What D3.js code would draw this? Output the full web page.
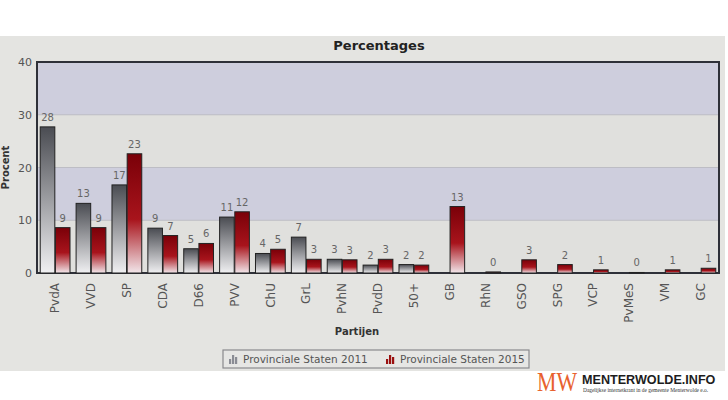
<!DOCTYPE html>
<html><head><meta charset="utf-8">
<script src="https://cdn.jsdelivr.net/npm/d3@7"></script>
<style>html,body{margin:0;padding:0;background:#fff;}svg{display:block;}</style>
</head><body>
<svg id="c" width="728" height="400"></svg>
<script>
const categories = ["PvdA","VVD","SP","CDA","D66","PVV","ChU","GrL","PvhN","PvdD","50+","GB","RhN","GSO","SPG","VCP","PvMeS","VM","GC"];
const ps2011 = [27.7,13.2,16.7,8.5,4.6,10.6,3.7,6.8,2.6,1.5,1.6,null,null,null,null,null,null,null,null];
const ps2015 = [8.6,8.6,22.6,7.1,5.6,11.6,4.5,2.6,2.5,2.6,1.5,12.6,0.2,2.5,1.6,0.6,0.1,0.6,0.9];
const yTicks = [0,10,20,30,40];
const seriesNames = ["Provinciale Staten 2011","Provinciale Staten 2015"];

const svg = d3.select("#c");
const W = 728, H = 400;
const plot = {l:37, r:719, t:62, b:273};

// screen background
svg.append("rect").attr("x",0).attr("y",0).attr("width",W).attr("height",H).attr("fill","#fff");
svg.append("rect").attr("x",0).attr("y",36).attr("width",725).attr("height",335).attr("fill","#e4e4e1");

const defs = svg.append("defs");
const g1 = defs.append("linearGradient").attr("id","gGray").attr("x1",0).attr("y1",0).attr("x2",0).attr("y2",1);
g1.append("stop").attr("offset","0%").attr("stop-color","#4a4c52");
g1.append("stop").attr("offset","100%").attr("stop-color","#f0f0f2");
const g2 = defs.append("linearGradient").attr("id","gRed").attr("x1",0).attr("y1",0).attr("x2",0).attr("y2",1);
g2.append("stop").attr("offset","0%").attr("stop-color","#7a0008");
g2.append("stop").attr("offset","55%").attr("stop-color","#a8141c");
g2.append("stop").attr("offset","100%").attr("stop-color","#f2e6ea");

const x = d3.scaleBand().domain(categories).range([plot.l, plot.r]).paddingInner(0.17).paddingOuter(0.09);
const xi = d3.scaleBand().domain([0,1]).range([0, x.bandwidth()]).paddingInner(0.04);
const y = d3.scaleLinear().domain([0,40]).range([plot.b, plot.t]);

// bands
for (let i=0;i<yTicks.length-1;i++){
  svg.append("rect").attr("x",plot.l).attr("width",plot.r-plot.l)
    .attr("y",y(yTicks[i+1])).attr("height",y(yTicks[i])-y(yTicks[i+1]))
    .attr("fill", i%2===0 ? "#e0e0dd" : "#cecedd");
}
// gridlines
svg.append("g").selectAll("line").data(yTicks.slice(1,4)).join("line")
  .attr("x1",plot.l).attr("x2",plot.r).attr("y1",d=>y(d)).attr("y2",d=>y(d))
  .attr("stroke","#bdbdc4").attr("stroke-width",1);

// plot frame
svg.append("rect").attr("x",plot.l).attr("y",plot.t).attr("width",plot.r-plot.l).attr("height",plot.b-plot.t)
  .attr("fill","none").attr("stroke","#2e3038").attr("stroke-width",2);

// y axis
const yAxis = d3.axisLeft(y).tickValues(yTicks).tickSize(0).tickPadding(5);
const ya = svg.append("g").attr("transform",`translate(${plot.l},0)`).call(yAxis);
ya.select(".domain").remove();
ya.selectAll("text").attr("font-family","DejaVu Sans").attr("font-size",11).attr("fill","#555");

// bars
const series = [ps2011, ps2015];
const fills = ["url(#gGray)","url(#gRed)"];
series.forEach((vals, s) => {
  const data = categories.map((c,i)=>({c, v: vals[i]})).filter(d=>d.v!==null);
  svg.append("g").selectAll("rect").data(data).join("rect")
    .attr("x", d=>x(d.c)+xi(s)).attr("width", xi.bandwidth())
    .attr("y", d=>y(d.v)).attr("height", d=>Math.max(0, y(0)-y(d.v)))
    .attr("fill", fills[s]).attr("stroke","#222").attr("stroke-width",1);
  svg.append("g").selectAll("text").data(data).join("text")
    .attr("x", d=>x(d.c)+xi(s)+xi.bandwidth()/2).attr("y", d=>y(d.v)-6)
    .attr("text-anchor","middle").attr("font-family","DejaVu Sans").attr("font-size",10).attr("fill","#666")
    .text(d=>Math.round(d.v));
});

// x axis labels
const xAxis = d3.axisBottom(x).tickSize(0).tickPadding(8);
const xa = svg.append("g").attr("transform",`translate(0,${plot.b})`).call(xAxis);
xa.select(".domain").remove();
xa.selectAll("text").attr("font-family","DejaVu Sans").attr("font-size",12).attr("fill","#555")
  .attr("text-anchor","end").attr("dy","0.35em")
  .attr("transform","translate(0,8) rotate(-90)").attr("x",-2).attr("y",0);

// titles
svg.append("text").attr("x",379).attr("y",50).attr("text-anchor","middle")
  .attr("font-family","DejaVu Sans").attr("font-weight","bold").attr("font-size",13).attr("fill","#222").text("Percentages");
svg.append("text").attr("transform",`translate(9,${(plot.t+plot.b)/2}) rotate(-90)`).attr("text-anchor","middle")
  .attr("font-family","DejaVu Sans").attr("font-weight","bold").attr("font-size",10).attr("fill","#333").text("Procent");
svg.append("text").attr("x",357).attr("y",335).attr("text-anchor","middle")
  .attr("font-family","DejaVu Sans").attr("font-weight","bold").attr("font-size",10).attr("fill","#333").text("Partijen");

// legend
const lg = svg.append("g");
lg.append("rect").attr("x",223).attr("y",350).attr("width",306).attr("height",18)
  .attr("fill","#e6e6e4").attr("stroke","#8a8a8e").attr("stroke-width",1.2);
const iconCols = ["#8a8c94","#9a1010"];
const legX = [229, 386];
seriesNames.forEach((n,s)=>{
  const ix = legX[s];
  [[0,5],[3,9],[6,7]].forEach(([dx,h])=>{
    lg.append("rect").attr("x",ix+dx).attr("y",364-h).attr("width",2.2).attr("height",h).attr("fill",iconCols[s]);
  });
  lg.append("text").attr("x",ix+14).attr("y",363).attr("font-family","DejaVu Sans").attr("font-size",10.5)
    .attr("fill","#555").text(n);
});

// watermark logo
const wm = svg.append("g");
wm.append("text").attr("x",537).attr("y",391).attr("font-family","Liberation Serif").attr("font-size",27)
  .attr("fill","#e8622e").attr("textLength",40).attr("lengthAdjust","spacingAndGlyphs").text("MW");
wm.append("text").attr("x",582).attr("y",384).attr("font-family","Liberation Sans").attr("font-weight","bold").attr("font-size",12.6)
  .attr("fill","#1d1d1d").text("MENTERWOLDE.INFO");
wm.append("text").attr("x",583).attr("y",392).attr("font-family","Liberation Serif").attr("font-size",5.4)
  .attr("fill","#333").text("Dagelijkse internetkrant in de gemeente Menterwolde e.o.");
</script>
</body></html>
